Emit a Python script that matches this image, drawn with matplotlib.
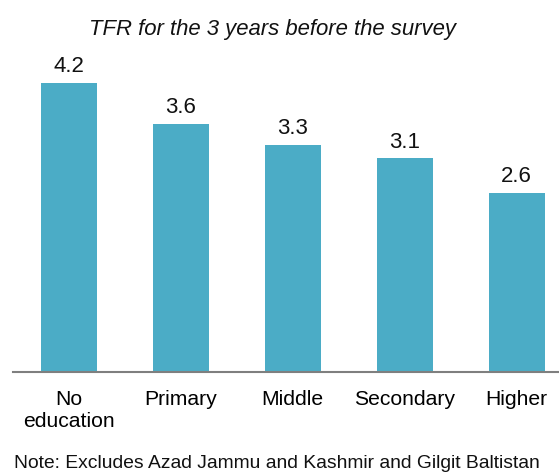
import matplotlib
matplotlib.use("Agg")
import matplotlib.pyplot as plt

categories = ["No\neducation", "Primary", "Middle", "Secondary", "Higher"]
tfr = [4.2, 3.6, 3.3, 3.1, 2.6]

BAR = "#4BACC6"

plt.rcParams["font.family"] = ["Liberation Sans", "DejaVu Sans"]

fig = plt.figure(figsize=(5.59, 4.73), dpi=100)
W, H = 559, 473
left, right = 12.5, 559
bottom, top = 371.5, 50
ax = fig.add_axes([left / W, (H - bottom) / H, (right - left) / W, (bottom - top) / H])

x = list(range(len(categories)))
ax.bar(x, tfr, width=0.5, color=BAR, edgecolor="none")
for xi, v in zip(x, tfr):
    ax.annotate(f"{v:.1f}", (xi, v), xytext=(0, 4), textcoords="offset points",
                ha="center", va="bottom", fontsize=16, color="#111111")

ax.set_xlim(-0.5, -0.5 + (right - left) / 112)
ax.set_ylim(0, (bottom - top) / 68.76)
ax.set_xticks(x)
ax.set_xticklabels(categories, fontsize=15.2, linespacing=1.25, va="top")
ax.tick_params(axis="x", length=0, pad=13)
ax.set_yticks([])
for s in ["top", "right", "left"]:
    ax.spines[s].set_visible(False)
ax.spines["bottom"].set_color("#7f7f7f")
ax.spines["bottom"].set_linewidth(1.5)

fig.text(0.5 * (88 + 457) / W, 1 - 30 / H, "TFR for the 3 years before the survey",
         ha="center", va="center", fontsize=15.9, style="italic", color="#111111")
fig.text(14 / W, 1 - 463 / H, "Note: Excludes Azad Jammu and Kashmir and Gilgit Baltistan",
         ha="left", va="center", fontsize=13.9, color="#111111")

fig.savefig("out.png", dpi=100)
